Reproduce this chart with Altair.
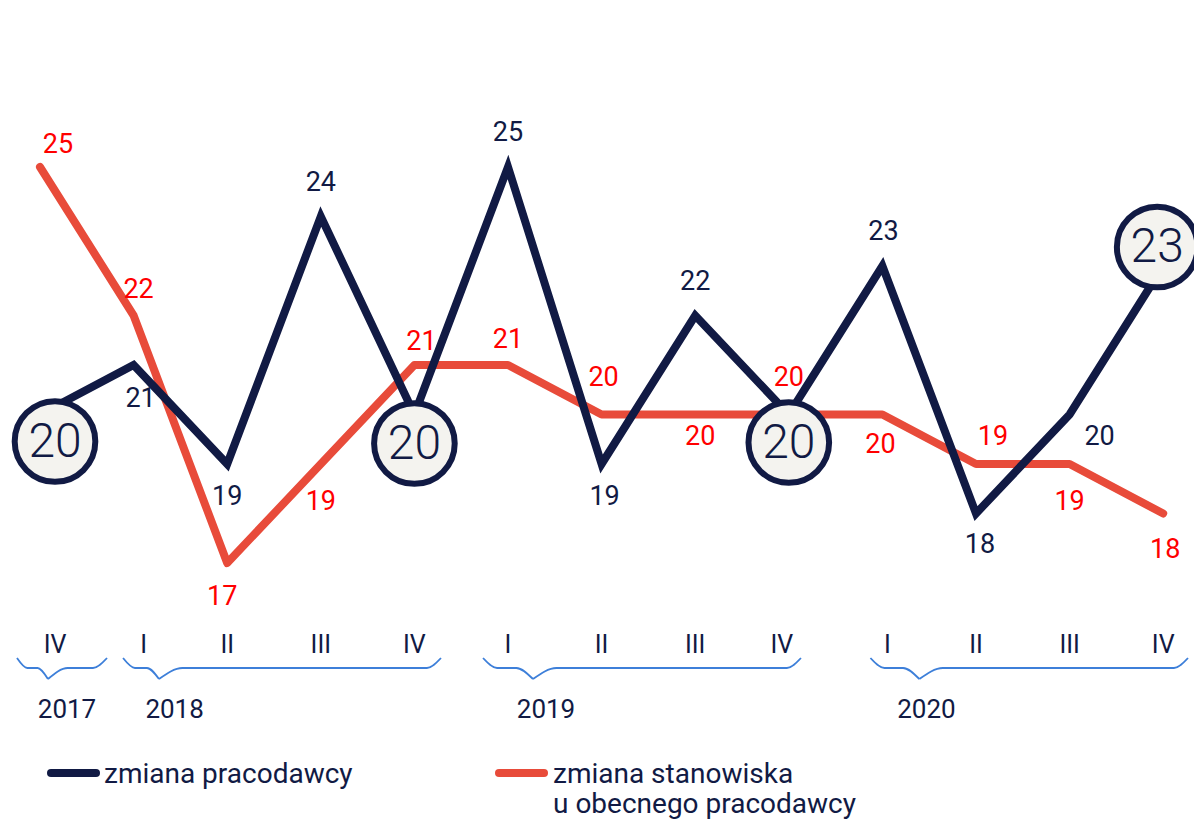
import altair as alt
import pandas as pd

# ---------------- data ----------------
quarters = ["IV", "I", "II", "III", "IV", "I", "II", "III", "IV", "I", "II", "III", "IV"]
years = ["2017", "2018", "2019", "2020"]
year_first_quarter = [0, 1, 5, 9]
year_last_quarter = [0, 4, 8, 12]
employer_change = [20, 21, 19, 24, 20, 25, 19, 22, 20, 23, 18, 20, 23]
position_change = [25, 22, 17, 19, 21, 21, 20, 20, 20, 20, 19, 19, 18]
series_names = ["zmiana pracodawcy", ["zmiana stanowiska", "u obecnego pracodawcy"]]
highlighted = [0, 4, 8, 12]

# ---------------- style / layout ----------------
NAVY = "#111a44"
RED_LINE = "#e84b3a"
RED_TEXT = "#ff0000"
BLUE = "#3d7fd9"
CIRCLE_FILL = "#f4f3ef"
FONT = "Roboto"

W, H = 1186, 811
X0_PX, STEP_PX = 32.0, 93.6          # plot px of quarter 0, px per quarter
Y25_PX, UNIT_PX = 159.0, 49.5        # plot px of value 25, px per unit
x_dom = [-X0_PX / STEP_PX, (W - X0_PX) / STEP_PX]
y_dom = [25 - (H - Y25_PX) / UNIT_PX, 25 + Y25_PX / UNIT_PX]
XS = alt.Scale(domain=x_dom, range=[0, W], nice=False, zero=False)
YS = alt.Scale(domain=y_dom, range=[H, 0], nice=False, zero=False)


def val_at(page_y):
    return 25 - (page_y - 8 - Y25_PX) / UNIT_PX


df = pd.DataFrame({
    "i": list(range(len(quarters))),
    "q": quarters,
    "emp": employer_change,
    "pos": position_change,
})

X = alt.X("i:Q", scale=XS, axis=None)
base = alt.Chart(df)

red_line = base.mark_line(color=RED_LINE, strokeWidth=8, strokeCap="round",
                          strokeJoin="round").encode(x=X, y=alt.Y("pos:Q", scale=YS, axis=None))
navy_line = base.mark_line(color=NAVY, strokeWidth=8, strokeCap="round",
                           strokeJoin="miter").encode(x=X, y=alt.Y("emp:Q", scale=YS, axis=None))

layers = [red_line, navy_line]

# value labels (offsets in px: dx, dy)
NAVY_LABEL_OFF = {1: (7, 34), 2: (0, 33), 3: (0, -34), 5: (0, -34), 6: (3, 33),
                  7: (0, -34), 9: (1, -34), 10: (4, 31), 11: (30, 22)}
RED_LABEL_OFF = {0: (18, -22), 1: (5, -26), 2: (-5, 34), 3: (0, 38), 4: (7, -23),
                 5: (0, -25), 6: (2, -37), 7: (5, 22), 8: (0, -37), 9: (-2, 30),
                 10: (17, -27), 11: (0, 38), 12: (2, 36)}

for k, (dx, dy) in RED_LABEL_OFF.items():
    layers.append(base.transform_filter(alt.datum.i == k).mark_text(
        font=FONT, fontSize=27, color=RED_TEXT, dx=dx, dy=dy, baseline="middle", align="center"
    ).encode(x=X, y=alt.Y("pos:Q", scale=YS, axis=None), text="pos:Q"))

for k, (dx, dy) in NAVY_LABEL_OFF.items():
    layers.append(base.transform_filter(alt.datum.i == k).mark_text(
        font=FONT, fontSize=27, color=NAVY, dx=dx, dy=dy, baseline="middle", align="center"
    ).encode(x=X, y=alt.Y("emp:Q", scale=YS, axis=None), text="emp:Q"))

# highlighted circles
CIRCLE_OFF = {0: (15, 27), 4: (0, 29), 8: (0, 28), 12: (-6, -19)}
for k in highlighted:
    dx, dy = CIRCLE_OFF[k]
    sel = base.transform_filter(alt.datum.i == k)
    layers.append(sel.mark_circle(size=6500, fill=CIRCLE_FILL, stroke=NAVY, strokeWidth=6,
                                  opacity=1, xOffset=dx, yOffset=dy).encode(
        x=X, y=alt.Y("emp:Q", scale=YS, axis=None)))
    layers.append(sel.mark_text(font=FONT, fontSize=48, fontWeight=300, color=NAVY,
                                dx=dx, dy=dy + 1, baseline="middle", align="center").encode(
        x=X, y=alt.Y("emp:Q", scale=YS, axis=None), text="emp:Q"))

# quarter tick labels
QUARTER_DX = {0: 15, 1: 10, 8: -7, 9: 5}
for k in range(len(quarters)):
    layers.append(base.transform_filter(alt.datum.i == k).mark_text(
        font=FONT, fontSize=25, color=NAVY, dx=QUARTER_DX.get(k, 0), baseline="middle", align="center"
    ).encode(x=X, y=alt.value(645 - 8), text="q:N"))

# year braces
BRACE_ADJ = [(-0.246, 0.085, 0.716), (-0.113, 0.271, 0.284),
             (-0.267, 0.267, 0.13), (-0.128, 0.395, 0.265)]
YEAR_DX = [27, 41, 38, 44]
top_v, mid_v, bot_v = val_at(658), val_at(668), val_at(679)
rows = []
for g, (y, a, b) in enumerate(zip(years, year_first_quarter, year_last_quarter)):
    l_adj, t_adj, r_adj = BRACE_ADJ[g]
    x0, tip, x1 = a + l_adj, a + t_adj, b + r_adj
    re_l = min(0.15, (tip - x0) / 3)
    rt_l = min(0.25, (tip - x0) / 3)
    re_r = min(0.15, (x1 - tip) / 3)
    rt_r = min(0.25, (x1 - tip) / 3)
    for (xx, vv) in [(x0, top_v), (x0 + re_l, mid_v), (tip - rt_l, mid_v), (tip, bot_v)]:
        rows.append({"seg": f"{y}L", "bx": xx, "by": vv})
    for (xx, vv) in [(tip, bot_v), (tip + rt_r, mid_v), (x1 - re_r, mid_v), (x1, top_v)]:
        rows.append({"seg": f"{y}R", "bx": xx, "by": vv})
brace_df = pd.DataFrame(rows)
layers.append(alt.Chart(brace_df).mark_line(color=BLUE, strokeWidth=1.8, interpolate="monotone").encode(
    x=alt.X("bx:Q", scale=XS, axis=None),
    y=alt.Y("by:Q", scale=YS, axis=None),
    detail="seg:N",
    order="bx:Q",
))

year_df = pd.DataFrame({"year": years, "first": year_first_quarter})
for g, y in enumerate(years):
    layers.append(alt.Chart(year_df).transform_filter(alt.datum.year == y).mark_text(
        font=FONT, fontSize=26, color=NAVY, dx=YEAR_DX[g], baseline="middle", align="center"
    ).encode(x=alt.X("first:Q", scale=XS, axis=None), y=alt.value(710 - 8), text="year:N"))

# legend (manual)
leg_df = pd.DataFrame({"k": [0]})
legend_items = [
    (series_names[0], NAVY, 47, 100, 104),
    (series_names[1], RED_LINE, 495, 548, 553),
]
for name, col, xa, xb, xt in legend_items:
    layers.append(alt.Chart(leg_df).mark_rule(color=col, strokeWidth=8, strokeCap="round").encode(
        x=alt.value(xa - 8 + 4), x2=alt.value(xb - 8 - 4), y=alt.value(773 - 8)))
    layers.append(alt.Chart(leg_df).mark_text(
        text=name, font=FONT, fontSize=28, color=NAVY, align="left", baseline="middle", lineHeight=30
    ).encode(x=alt.value(xt - 8), y=alt.value(775 - 8)))

chart = alt.layer(*layers).properties(
    width=W, height=H, padding=0, autosize=alt.AutoSizeParams(type="none"),
    background="white",
).configure_view(stroke=None, strokeWidth=0)

chart.save("out.html", embed_options={"renderer": "svg", "actions": False})
